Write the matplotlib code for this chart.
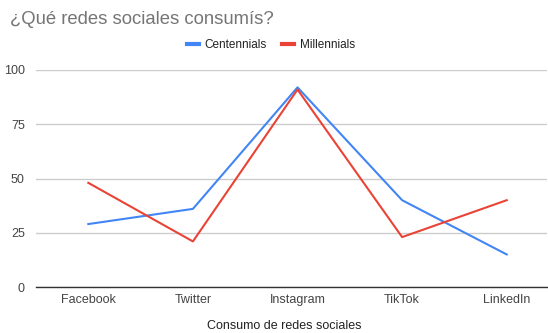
import matplotlib
matplotlib.use("Agg")
import matplotlib.pyplot as plt

redes = ["Facebook", "Twitter", "Instagram", "TikTok", "LinkedIn"]
centennials = [29, 36, 92, 40, 15]
millennials = [48, 21, 91, 23, 40]
y_ticks = [0, 25, 50, 75, 100]

plt.rcParams['font.family'] = ['Liberation Sans', 'DejaVu Sans']

fig = plt.figure(figsize=(5.48, 3.33), dpi=100)
ax = fig.add_axes([36 / 548, 46 / 333, 511 / 548, 217 / 333])

x = list(range(len(redes)))
ax.plot(x, centennials, color='#4285F4', linewidth=1.5, label='Centennials')
ax.plot(x, millennials, color='#EA4335', linewidth=1.5, label='Millennials')

ax.set_xlim(-0.5, 4.385)
ax.set_ylim(0, 100)
ax.set_yticks(y_ticks)
ax.set_xticks(x, redes)
ax.grid(axis='y', color='#cccccc', linewidth=1)
ax.set_axisbelow(True)
for s in ['top', 'right', 'left']:
    ax.spines[s].set_visible(False)
ax.spines['bottom'].set_color('#333333')
ax.spines['bottom'].set_linewidth(1)
ax.tick_params(length=0, labelsize=9, colors='#444444', pad=5)
ax.tick_params(axis='y', pad=8)

fig.text(284 / 548, 1 - 326 / 333, 'Consumo de redes sociales', fontsize=9,
         color='#222222', ha='center', va='center')

fig.text(10 / 548, 1 - 20 / 333, '¿Qué redes sociales consumís?', fontsize=13.3,
         color='#757575', va='center', ha='left')

leg = fig.legend(loc='center', bbox_to_anchor=(271 / 548, 1 - 45 / 333), ncol=2,
                 frameon=False, fontsize=8.5, handlelength=1.0, handletextpad=0.5,
                 columnspacing=1.3, labelcolor='#222222')
for line in leg.get_lines():
    line.set_linewidth(3)

fig.savefig('out.png', dpi=100)
